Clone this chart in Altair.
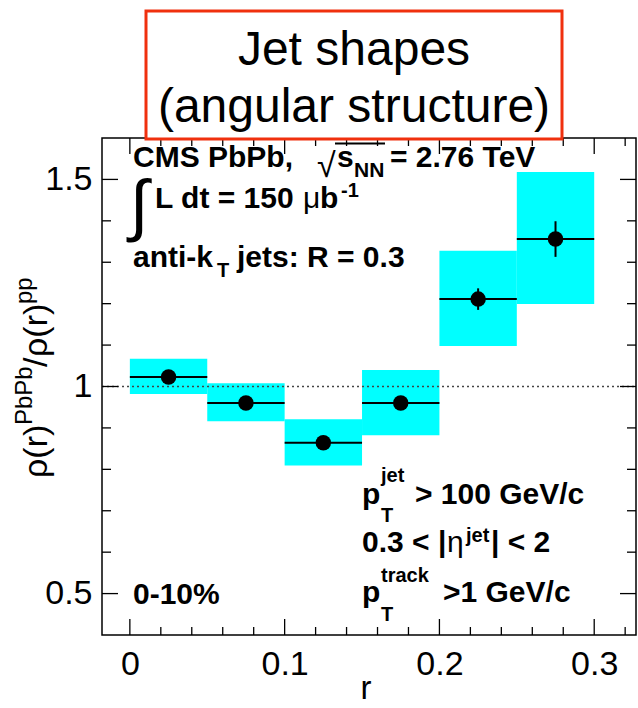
import altair as alt
import pandas as pd

# ---------------- data ----------------
r_lo = [0.00, 0.05, 0.10, 0.15, 0.20, 0.25]
r_hi = [0.05, 0.10, 0.15, 0.20, 0.25, 0.30]
ratio = [1.023, 0.960, 0.864, 0.960, 1.211, 1.356]
stat_err = [0.012, 0.012, 0.012, 0.012, 0.026, 0.043]
sys_lo = [0.982, 0.916, 0.809, 0.882, 1.098, 1.199]
sys_hi = [1.067, 1.008, 0.921, 1.040, 1.328, 1.518]

x_major = [0.0, 0.1, 0.2, 0.3]
x_minor = [0.02, 0.04, 0.06, 0.08, 0.12, 0.14, 0.16, 0.18, 0.22, 0.24, 0.26, 0.28, 0.32]
y_major = [0.5, 1.0, 1.5]
y_minor = [0.6, 0.7, 0.8, 0.9, 1.1, 1.2, 1.3, 1.4]

X_DOMAIN = [-0.018, 0.327]
Y_DOMAIN = [0.40, 1.60]

# ---------------- layout ----------------
X0, Y0 = 102, 138
W, H = 534, 497
FONT = "Liberation Sans"

xs = alt.Scale(domain=X_DOMAIN, nice=False, zero=False)
ys = alt.Scale(domain=Y_DOMAIN, nice=False, zero=False)

x_axis = alt.Axis(
    values=x_major, title=None, ticks=False, tickSize=0, domain=False, grid=False,
    labelExpr="datum.value == 0 ? '0' : format(datum.value, '.1f')",
    labelFont=FONT, labelFontSize=34, labelColor="black", labelPadding=12,
    labelFlush=False)
y_axis = alt.Axis(
    values=y_major, title=None, ticks=False, tickSize=0, domain=False, grid=False,
    labelExpr="datum.value == 1 ? '1' : format(datum.value, '.1f')",
    labelFont=FONT, labelFontSize=34, labelColor="black", labelPadding=10,
    labelFlush=False)

def X(field):
    return alt.X(field, scale=xs, axis=x_axis)

def Y(field):
    return alt.Y(field, scale=ys, axis=y_axis)

bins = pd.DataFrame({
    "lo": r_lo, "hi": r_hi, "val": ratio,
    "mid": [(a + b) / 2 for a, b in zip(r_lo, r_hi)],
    "elo": [v - e for v, e in zip(ratio, stat_err)],
    "ehi": [v + e for v, e in zip(ratio, stat_err)],
    "slo": sys_lo, "shi": sys_hi,
})

boxes = alt.Chart(bins).mark_rect(color="#00ffff").encode(
    x=X("lo:Q"), x2="hi:Q", y=Y("slo:Q"), y2="shi:Q")

unity = alt.Chart(pd.DataFrame({"one": [1.0]})).mark_rule(
    color="#444444", strokeDash=[2, 3], strokeWidth=1.5).encode(
    y=Y("one:Q"), x=alt.value(0), x2=alt.value(W))

hbars = alt.Chart(bins).mark_rule(color="black", strokeWidth=2).encode(
    x=X("lo:Q"), x2="hi:Q", y=Y("val:Q"))

vbars = alt.Chart(bins).mark_rule(color="black", strokeWidth=2).encode(
    x=X("mid:Q"), y=Y("elo:Q"), y2="ehi:Q")

points = alt.Chart(bins).mark_point(filled=True, shape="circle", size=240,
                                    color="black", opacity=1).encode(
    x=X("mid:Q"), y=Y("val:Q"))

# ---------------- ROOT style inward ticks ----------------
def xticks(vals, length):
    d = pd.DataFrame({"v": vals})
    bottom = alt.Chart(d).mark_rule(color="black", strokeWidth=1.3).encode(
        x=X("v:Q"), y=alt.value(H), y2=alt.value(H - length))
    top = alt.Chart(d).mark_rule(color="black", strokeWidth=1.3).encode(
        x=X("v:Q"), y=alt.value(0), y2=alt.value(length))
    return [bottom, top]

def yticks(vals, length):
    d = pd.DataFrame({"v": vals})
    left = alt.Chart(d).mark_rule(color="black", strokeWidth=1.3).encode(
        y=Y("v:Q"), x=alt.value(0), x2=alt.value(length))
    right = alt.Chart(d).mark_rule(color="black", strokeWidth=1.3).encode(
        y=Y("v:Q"), x=alt.value(W), x2=alt.value(W - length))
    return [left, right]

ticks = xticks(x_major, 16) + xticks(x_minor, 8) + yticks(y_major, 16) + yticks(y_minor, 9)

# ---------------- text helpers (absolute page pixel positions) ----------------
def txt(s, x, y, size, bold=True, align="left", angle=0, font=FONT):
    mk = dict(align=align, baseline="alphabetic", fontSize=size,
              fontWeight="bold" if bold else "normal", font=font, color="black")
    if angle:
        mk["angle"] = angle
    return alt.Chart(pd.DataFrame({"t": [s]})).mark_text(**mk).encode(
        text="t:N", x=alt.value(x - X0), y=alt.value(y - Y0))

def hline(x1, x2, y, width=2, color="black"):
    return alt.Chart(pd.DataFrame({"a": [0]})).mark_rule(
        color=color, strokeWidth=width).encode(
        x=alt.value(x1 - X0), x2=alt.value(x2 - X0), y=alt.value(y - Y0))

texts = [
    # top-left block
    txt("CMS PbPb,", 133, 167, 30),
    txt("√", 317, 177, 34, bold=False),
    hline(335, 385, 143.5, 2),
    txt("s", 337, 167, 30),
    txt("NN", 354, 177, 21),
    txt("= 2.76 TeV", 390, 167, 30),
    txt("∫", 130, 228, 68, bold=False),
    txt("L dt = 150", 155, 208, 30),
    txt("μ", 303, 208, 30, bold=False),
    txt("b", 320, 208, 30),
    txt("-1", 341, 197, 20),
    txt("anti-k", 133, 267, 30),
    txt("T", 217, 277, 20),
    txt("jets: R = 0.3", 237, 267, 30),
    # right block
    txt("p", 362, 504, 30),
    txt("jet", 381, 482, 20),
    txt("T", 381, 522, 20),
    txt("> 100 GeV/c", 415, 504, 30),
    txt("0.3 < |", 362, 552, 30),
    txt("η", 447, 552, 30, bold=False),
    txt("jet", 466, 542, 20),
    txt("| < 2", 491, 552, 30),
    txt("p", 362, 602, 30),
    txt("track", 381, 582, 20),
    txt("T", 381, 621, 20),
    txt(">1 GeV/c", 443, 602, 30),
    # centrality
    txt("0-10%", 133, 604, 30),
    # x axis title
    txt("r", 366, 699, 33, bold=False, align="center"),
    # y axis title (rotated)
    txt("ρ(r)", 47, 478, 34, bold=False, angle=270),
    txt("PbPb", 32, 425, 24, bold=False, angle=270),
    txt("/", 47, 367, 34, bold=False, angle=270),
    txt("ρ(r)", 47, 357, 34, bold=False, angle=270),
    txt("pp", 32, 304, 24, bold=False, angle=270),
]

title_box = alt.Chart(pd.DataFrame({"a": [0]})).mark_rect(
    fill="white", stroke="#f0300e", strokeWidth=3).encode(
    x=alt.value(146 - X0), x2=alt.value(562 - X0),
    y=alt.value(11 - Y0), y2=alt.value(139 - Y0))

title_texts = [
    txt("Jet shapes", 354, 65, 48, bold=False, align="center"),
    txt("(angular structure)", 354, 122, 48, bold=False, align="center"),
]

chart = alt.layer(
    boxes, unity, hbars, vbars, points, *ticks, *texts, title_box, *title_texts
).properties(
    width=W, height=H,
    autosize=alt.AutoSizeParams(type="none"),
    padding={"left": X0, "top": Y0, "right": 638 - X0 - W, "bottom": 708 - Y0 - H},
    background="white",
).configure_view(stroke="black", strokeWidth=1.5)

chart.save("out.html", embed_options={"renderer": "svg", "actions": False})
